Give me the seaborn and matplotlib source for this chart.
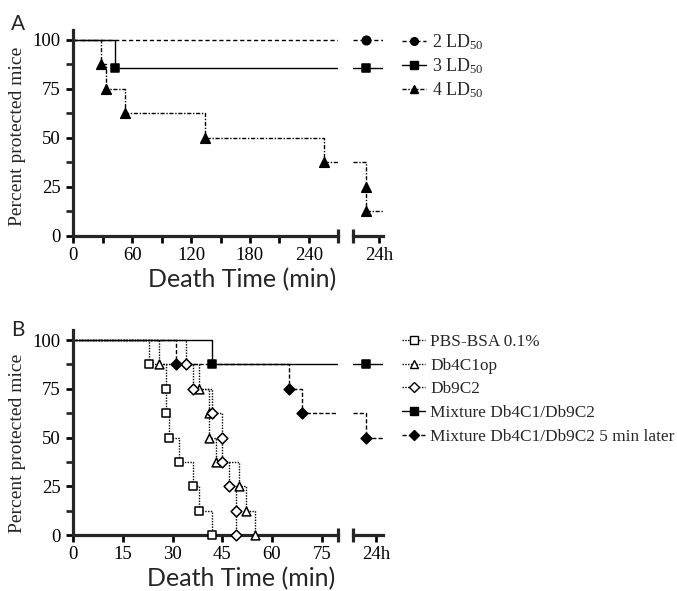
import matplotlib
matplotlib.use("Agg")
import matplotlib.pyplot as plt
import seaborn as sns
from matplotlib.lines import Line2D
from matplotlib.ticker import FixedLocator, FuncFormatter

sns.set_theme(style="ticks")
plt.rcParams['font.family'] = ['Liberation Serif', 'DejaVu Serif']
plt.rcParams['mathtext.default'] = 'regular'

DAY = 1440  # 24h, in minutes

# panel A: death times (min) and % surviving after each death
a_labels = ["2 LD$_{50}$", "3 LD$_{50}$", "4 LD$_{50}$"]
a_times = [[], [42.5], [28, 33, 53, 134, 255, DAY, DAY]]
a_surv = [[], [85.7], [87.5, 75, 62.5, 50, 37.5, 25, 12.5]]
a_xticks = [0, 30, 60, 90, 120, 150, 180, 210, 240]
a_xmax = 270

# panel B
b_labels = ["PBS-BSA 0.1%", "Db4C1op", "Db9C2", "Mixture Db4C1/Db9C2",
            "Mixture Db4C1/Db9C2 5 min later"]
b_times = [[23, 28, 28, 29, 32, 36, 38, 42],
           [26, 38, 41, 41, 43, 50, 52, 55],
           [34, 36, 42, 45, 45, 47, 49, 49],
           [42],
           [31, 65, 69, DAY]]
b_surv = [[87.5, 75, 62.5, 50, 37.5, 25, 12.5, 0],
          [87.5, 75, 62.5, 50, 37.5, 25, 12.5, 0],
          [87.5, 75, 62.5, 50, 37.5, 25, 12.5, 0],
          [87.5],
          [87.5, 75, 62.5, 50]]
b_xticks = [0, 15, 30, 45, 60, 75]
b_xmax = 80

yticks = [0, 25, 50, 75, 100]
yminor = [12.5, 37.5, 62.5, 87.5]

# styles
a_styles = [
    dict(ls=(0, (3, 2)), marker='o', fc='black', s=38),
    dict(ls='-', marker='s', fc='black', s=38),
    dict(ls=(0, (3, 1.2, 1, 1.2)), marker='^', fc='black', s=48),
]
b_styles = [
    dict(ls=(0, (1, 1)), marker='s', fc='white', s=34),
    dict(ls=(0, (1, 1)), marker='^', fc='white', s=40),
    dict(ls=(0, (1, 1)), marker='D', fc='white', s=30),
    dict(ls='-', marker='s', fc='black', s=38),
    dict(ls=(0, (3, 1.5)), marker='D', fc='black', s=30),
]

W, H = 677, 591
SPW = 2.3
SERIF = ['Liberation Serif', 'DejaVu Serif']


def rect(l, t, r, b):
    return [l / W, 1 - b / H, (r - l) / W, (b - t) / H]


def draw(ax, axd, times, surv, st, xmax, daylim):
    main_t = [t for t in times if t < DAY]
    main_s = [s for t, s in zip(times, surv) if t < DAY]
    day_s = [s for t, s in zip(times, surv) if t >= DAY]
    xs = [0] + main_t
    ys = [100] + main_s
    if ys[-1] > 0:
        xs.append(xmax)
        ys.append(ys[-1])
    sns.lineplot(x=xs, y=ys, ax=ax, estimator=None, sort=False, color='black',
                 drawstyle='steps-post', linewidth=1.0, linestyle=st['ls'])
    if main_t:
        sns.scatterplot(x=main_t, y=main_s, ax=ax, marker=st['marker'], s=st['s'],
                        color=st['fc'], edgecolor='black', linewidth=1.1,
                        zorder=5, clip_on=False)
    before = ys[-1]
    if before > 0:
        final = day_s[-1] if day_s else before
        sns.lineplot(x=[daylim[0], DAY, daylim[1]], y=[before, final, final], ax=axd,
                     estimator=None, sort=False, color='black', drawstyle='steps-post',
                     linewidth=1.0, linestyle=st['ls'])
        mk = day_s if day_s else [final]
        sns.scatterplot(x=[DAY] * len(mk), y=mk, ax=axd, marker=st['marker'], s=st['s'],
                        color=st['fc'], edgecolor='black', linewidth=1.1,
                        zorder=5, clip_on=False)


def style_axes(ax, axd, xticks, xmax, fmt, daytick, daylim, ylab_y):
    for a in (ax, axd):
        a.set_ylim(0, 105)
        a.spines['top'].set_visible(False)
        a.spines['right'].set_visible(False)
        a.spines['bottom'].set_linewidth(SPW)
        a.spines['left'].set_linewidth(SPW)
        a.set_xlabel('')
        a.set_ylabel('')
    ax.set_xlim(0, xmax)
    ax.xaxis.set_major_locator(FixedLocator(xticks))
    ax.xaxis.set_major_formatter(FuncFormatter(fmt))
    ax.xaxis.set_minor_locator(FixedLocator([xmax]))
    ax.yaxis.set_major_locator(FixedLocator(yticks))
    ax.yaxis.set_minor_locator(FixedLocator(yminor))
    ax.tick_params(axis='both', which='major', length=5, width=SPW * 0.85, labelsize=13.5,
                   direction='out', color='black', labelcolor='black')
    ax.tick_params(axis='x', which='major', pad=3)
    ax.tick_params(axis='y', which='major', pad=4)
    ax.tick_params(axis='y', which='minor', length=5, width=SPW * 0.85, direction='out')
    ax.tick_params(axis='x', which='minor', length=10, width=SPW, direction='inout')
    axd.set_xlim(*daylim)
    axd.spines['left'].set_visible(False)
    axd.set_yticks([])
    axd.xaxis.set_major_locator(FixedLocator([daytick]))
    axd.set_xticklabels(['24h'])
    axd.xaxis.set_minor_locator(FixedLocator([daylim[0]]))
    axd.tick_params(axis='x', which='major', length=5, width=SPW * 0.85, labelsize=13.5,
                    pad=3, color='black', labelcolor='black')
    axd.tick_params(axis='x', which='minor', length=10, width=SPW, direction='inout')
    for lab in ax.get_xticklabels() + ax.get_yticklabels() + axd.get_xticklabels():
        lab.set_fontfamily(SERIF)
    ax.text(-0.21, ylab_y, 'Percent protected mice', rotation=90, transform=ax.transAxes,
            ha='center', va='center', fontsize=14, family=SERIF)


fig = plt.figure(figsize=(W / 100, H / 100), dpi=100)
daylim = (1427, 1457)

axA = fig.add_axes(rect(73.3, 30, 338.3, 236))
axAd = fig.add_axes(rect(352.7, 30, 382.5, 236))
for t, s, st in zip(a_times, a_surv, a_styles):
    draw(axA, axAd, t, s, st, a_xmax, daylim)
style_axes(axA, axAd, a_xticks, a_xmax,
           lambda v, p: f"{int(v)}" if v % 60 == 0 else "", 1453.5, daylim, 0.485)

axB = fig.add_axes(rect(73.3, 330.3, 338.3, 535))
axBd = fig.add_axes(rect(352.7, 330.3, 383, 535))
for t, s, st in zip(b_times, b_surv, b_styles):
    draw(axB, axBd, t, s, st, b_xmax, daylim)
style_axes(axB, axBd, b_xticks, b_xmax, lambda v, p: f"{int(v)}", 1450.5, daylim, 0.45)


def handles(styles):
    out = []
    for st in styles:
        ms = 6.5 if st['marker'] != 'D' else 5.5
        out.append(Line2D([], [], color='black', linestyle=st['ls'], linewidth=1.0,
                          marker=st['marker'], markersize=ms * 0.85,
                          markerfacecolor=st['fc'], markeredgecolor='black',
                          markeredgewidth=1.0))
    return out


leg_kw = dict(loc='upper left', frameon=False, handlelength=1.35,
              handletextpad=0.3, borderpad=0, borderaxespad=0)
fig.legend(handles(a_styles), a_labels, bbox_to_anchor=(402 / W, 1 - 32 / H),
           fontsize=13, labelspacing=0.26, **leg_kw)
fig.legend(handles(b_styles), b_labels, bbox_to_anchor=(402 / W, 1 - 334 / H),
           fontsize=12.4, labelspacing=0.44, **leg_kw)

sans = ['Lato', 'DejaVu Sans']
fig.text(242 / W, 1 - 287 / H, 'Death Time (min)', ha='center', va='baseline',
         fontsize=18, family=sans)
fig.text(241 / W, 1 - 586 / H, 'Death Time (min)', ha='center', va='baseline',
         fontsize=18, family=sans)
fig.text(11 / W, 1 - 30 / H, 'A', ha='left', va='baseline', fontsize=15, family=sans)
fig.text(11 / W, 1 - 336 / H, 'B', ha='left', va='baseline', fontsize=15, family=sans)

fig.savefig('out.png', dpi=100)
